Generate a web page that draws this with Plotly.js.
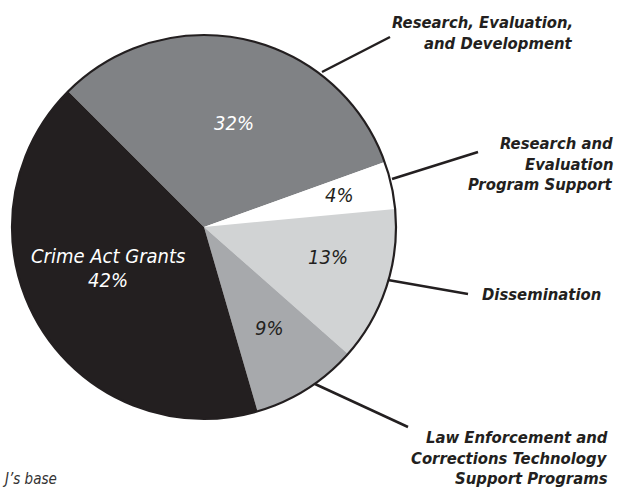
<!DOCTYPE html>
<html>
<head>
<meta charset="utf-8">
<script src="https://cdn.plot.ly/plotly-3.0.1.min.js"></script>
<style>
  html, body { margin: 0; padding: 0; background: #fff; }
  #chart { width: 619px; height: 489px; }
</style>
</head>
<body>
<div id="chart"></div>
<script>
// ---- data ----
var categories = [
  "Research, Evaluation, and Development",
  "Research and Evaluation Program Support",
  "Dissemination",
  "Law Enforcement and Corrections Technology Support Programs",
  "Crime Act Grants"
];
var shares = [32, 4, 13, 9, 42];
var sliceColors = ["#808285", "#ffffff", "#d1d3d4", "#a7a9ac", "#231f20"];
var pctColors = ["#ffffff", "#231f20", "#231f20", "#231f20", "#ffffff"];
var outerLabelLines = [
  ["Research, Evaluation,", "and Development"],
  ["Research and", "Evaluation", "Program Support"],
  ["Dissemination"],
  ["Law Enforcement and", "Corrections Technology", "Support Programs"]
];
var sourceFragment = "J\u2019s base";

// ---- layout helpers ----
var W = 619, H = 489;
function px(x) { return x / W; }
function py(y) { return 1 - y / H; }

var FONT = "'Liberation Sans Narrow', 'DejaVu Sans Condensed', 'Arial Narrow', 'Liberation Sans', sans-serif";

var cx = 204, cy = 227, R = 192;

var trace = {
  type: "pie",
  labels: categories,
  values: shares,
  sort: false,
  direction: "clockwise",
  rotation: -45,
  marker: { colors: sliceColors, line: { width: 0 } },
  textinfo: "none",
  hoverinfo: "skip",
  showlegend: false,
  domain: { x: [px(cx - R), px(cx + R)], y: [py(cy + R), py(cy - R)] }
};

var annotations = [];
function addText(x, y, text, xanchor, font) {
  annotations.push({
    x: px(x), y: py(y), xref: "paper", yref: "paper",
    text: text, showarrow: false, xanchor: xanchor, yanchor: "middle", align: xanchor,
    font: font
  });
}

// inside percentage labels
var pctPos = [[234, 123], [339, 195], [328, 257], [269, 328], [108, 280]];
for (var i = 0; i < shares.length; i++) {
  var f = { family: FONT, size: 20, color: pctColors[i], style: "italic" };
  addText(pctPos[i][0], pctPos[i][1], shares[i] + "%", "center", f);
  if (i === 4) addText(108, 256, categories[4], "center", f);
}

// outer labels (one annotation per line)
var outerPos = [
  { x: 575, y: [22, 43], anchor: "right" },
  { x: 615, y: [143, 164, 185], anchor: "right" },
  { x: 480, y: [294], anchor: "left" },
  { x: 610, y: [437, 458, 478], anchor: "right" }
];
var labelFont = { family: FONT, size: 16.5, color: "#231f20", weight: "bold", style: "italic" };
for (var j = 0; j < outerLabelLines.length; j++) {
  for (var k = 0; k < outerLabelLines[j].length; k++) {
    addText(outerPos[j].x, outerPos[j].y[k], outerLabelLines[j][k], outerPos[j].anchor, labelFont);
  }
}
addText(0, 479, sourceFragment, "left", { family: FONT, size: 15, color: "#333333", style: "italic" });

// connector lines
var connectors = [
  [322, 72, 390, 37],
  [392, 179, 478, 152],
  [388, 280, 468, 294],
  [315, 384, 408, 427]
];
var shapes = [{
  type: "circle", xref: "paper", yref: "paper",
  x0: px(cx - R), x1: px(cx + R), y0: py(cy + R), y1: py(cy - R),
  line: { color: "#231f20", width: 2.2 }, fillcolor: "rgba(0,0,0,0)"
}];
connectors.forEach(function (c) {
  shapes.push({
    type: "line", xref: "paper", yref: "paper",
    x0: px(c[0]), y0: py(c[1]), x1: px(c[2]), y1: py(c[3]),
    line: { color: "#231f20", width: 2.5 }
  });
});

var layout = {
  width: W, height: H,
  margin: { l: 0, r: 0, t: 0, b: 0 },
  paper_bgcolor: "#ffffff",
  plot_bgcolor: "#ffffff",
  showlegend: false,
  annotations: annotations,
  shapes: shapes
};

Plotly.newPlot("chart", [trace], layout, { displayModeBar: false, staticPlot: true });
</script>
</body>
</html>
